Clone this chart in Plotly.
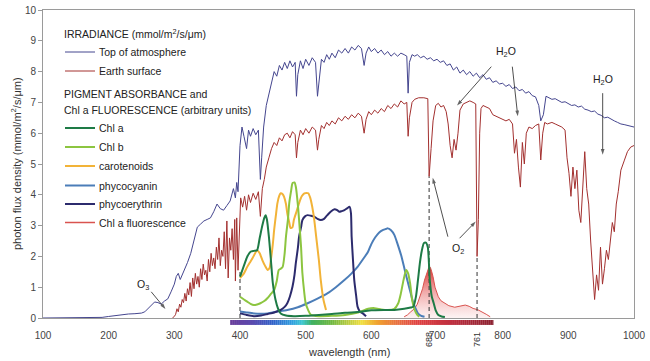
import plotly.graph_objects as go

# ---------------- DATA ----------------
toa_wl = [100,150,190,200,210,220,230,240,250,255,260,265,270,275,280,285,290,295,300,303,306,309,312,316,320,325,330,335,340,345,350,355,360,365,370,375,380,385,390,393,395,397,400,403,406,410,413,416,420,424,428,431,433,436,440,444,448,452,456,460,464,468,472,476,480,484,486,488,492,496,500,505,510,515,518,520,524,528,532,536,540,545,550,555,560,565,570,575,580,585,589,592,596,600,605,610,615,620,625,630,635,640,645,650,654,656,658,662,666,670,675,680,685,690,695,700,705,710,715,720,725,730,735,740,745,750,755,760,765,770,775,780,785,790,795,800,805,810,815,820,825,830,835,840,845,850,855,858,862,866,870,875,880,885,890,895,900,905,910,915,920,925,930,935,940,945,950,955,960,965,970,975,980,985,990,995,1000]
toa_val = [0,0,0.02,0.05,0.08,0.12,0.13,0.14,0.16,0.2,0.3,0.42,0.52,0.5,0.45,0.55,0.62,0.85,1.1,1.35,1.45,1.25,1.4,1.55,1.8,2.1,2.5,2.95,3.05,3.15,3.2,3.25,3.45,3.7,3.55,3.5,3.65,3.8,4.2,3.9,4.4,4.1,5.6,6.2,5.9,5.5,6.1,5.9,6.15,5.95,6.1,4.5,5.2,6.2,6.9,7.3,7.7,8.0,7.85,8.2,8.05,8.3,8.1,8.35,8.15,8.3,7.2,7.9,8.35,8.1,8.4,8.2,8.45,8.3,7.2,7.6,8.4,8.3,8.55,8.4,8.6,8.45,8.7,8.6,8.75,8.6,8.8,8.7,8.85,8.75,8.2,8.6,8.8,8.65,8.75,8.6,8.7,8.55,8.65,8.5,8.6,8.5,8.6,8.55,8.5,7.3,8.3,8.55,8.5,8.55,8.45,8.5,8.4,8.45,8.35,8.4,8.3,8.35,8.2,8.25,8.05,8.15,7.95,8.05,7.9,8.0,7.85,7.95,7.8,7.9,7.75,7.8,7.65,7.7,7.6,7.62,7.52,7.58,7.45,7.5,7.38,7.42,7.3,7.35,7.22,7.18,6.9,6.4,6.6,7.2,7.15,7.1,7.12,7.05,7.0,7.02,6.95,6.9,6.92,6.85,6.88,6.78,6.75,6.7,6.72,6.62,6.58,6.5,6.52,6.45,6.4,6.35,6.3,6.28,6.25,6.22,6.2]

es_wl = [297,300,302,304,306,308,310,312,314,316,318,320,322,324,326,328,330,332,334,336,338,340,342,344,346,348,350,352,354,356,358,360,362,364,366,368,370,372,374,376,378,380,382,384,386,388,390,392,393,395,397,399,401,404,407,410,413,416,420,424,428,431,434,437,440,444,448,452,456,460,464,468,472,476,480,484,486,488,492,496,500,505,510,515,518,520,524,528,532,536,540,545,550,555,560,565,570,575,580,585,589,592,596,600,605,610,615,620,625,630,635,640,645,650,654,656,658,662,666,672,680,686,688,691,694,698,702,706,710,714,717,720,723,726,729,732,735,740,745,750,755,759,761,763,765,767,770,775,780,785,790,795,800,805,810,815,818,821,824,827,830,833,836,840,845,850,855,858,861,864,868,875,880,885,890,895,898,901,904,907,910,913,916,919,922,925,928,931,934,937,940,943,946,949,952,955,958,961,964,967,970,973,976,980,985,990,995,1000]
es_val = [0,0.05,0.12,0.3,0.2,0.45,0.35,0.6,0.5,0.8,0.55,0.95,0.75,1.15,0.7,1.3,0.95,1.45,1.1,1.35,1.0,1.6,1.25,1.75,1.4,1.55,1.2,1.9,1.5,2.1,1.7,1.95,1.6,2.3,1.9,2.6,1.7,2.2,2.0,2.8,1.6,3.15,1.3,2.6,2.2,2.9,1.9,3.2,1.2,3.25,1.55,3.0,3.9,3.6,3.95,3.5,4.0,3.75,4.05,3.85,4.1,3.3,4.2,4.5,4.9,5.2,5.5,5.7,5.6,5.85,5.75,5.95,6.0,5.85,6.05,5.95,5.2,5.7,6.1,5.95,6.15,6.0,6.2,6.1,5.45,5.8,6.25,6.15,6.35,6.25,6.4,6.3,6.5,6.4,6.55,6.45,6.6,6.5,6.65,6.55,6.0,6.45,6.7,6.6,6.75,6.65,6.8,6.7,6.9,6.8,6.95,6.85,7.05,6.95,7.0,5.9,6.5,7.0,7.1,7.15,7.15,7.12,4.6,5.5,6.4,6.9,6.97,6.85,6.9,6.7,6.3,5.6,5.2,5.8,5.45,6.0,6.75,6.95,7.0,7.05,7.0,6.95,2.0,3.2,6.0,6.8,6.9,6.85,6.8,6.6,6.55,6.5,6.45,6.4,6.45,6.3,5.35,5.8,4.9,4.25,5.7,5.0,6.0,6.2,6.15,6.25,6.3,5.13,6.0,6.35,6.3,6.35,6.3,6.25,6.2,6.1,5.2,4.7,3.95,4.9,4.2,4.8,3.5,3.1,4.5,5.4,4.2,3.7,2.5,1.7,0.6,1.4,0.9,2.3,1.1,1.6,2.2,1.9,2.6,3.1,2.8,3.7,4.1,4.8,5.1,5.4,5.55,5.6]

chla_wl = [400,406,411,416,421,426,430,434,437,439,441,444,447,450,454,458,462,470,482,500,520,540,560,584,600,620,635,650,660,664,668,671,674,677,680,683,686,689,692,695,698,702,707,712]
chla_val = [1.34,1.7,1.99,2.15,2.18,2.2,2.6,3.0,3.25,3.34,3.2,2.64,1.9,1.13,0.6,0.3,0.15,0.08,0.06,0.07,0.1,0.13,0.17,0.2,0.25,0.26,0.26,0.3,0.34,0.37,0.7,1.23,1.8,2.2,2.43,2.45,2.3,1.23,0.7,0.48,0.25,0.1,0.05,0.03]

chlb_wl = [400,406,411,416,421,426,431,437,442,447,452,456,459,462,465,468,470,473,475,478,480,483,485,488,490,493,495,498,500,504,508,520,540,560,580,595,605,615,625,635,641,645,649,653,656,659,662,666,670,673]
chlb_val = [0.69,0.6,0.53,0.46,0.42,0.44,0.48,0.55,0.65,0.78,0.91,1.2,1.56,1.6,1.66,2.1,2.64,3.2,3.73,4.15,4.38,4.4,4.26,3.7,3.18,2.3,1.46,0.8,0.48,0.25,0.1,0.06,0.07,0.1,0.18,0.3,0.32,0.28,0.26,0.3,0.48,0.8,1.23,1.56,1.45,1.13,0.6,0.26,0.1,0.04]

car_wl = [400,406,411,415,419,423,426,430,434,438,442,445,447,450,452,455,457,460,462,465,467,470,472,475,477,480,482,486,490,494,498,501,504,507,510,513,516,520,523,527,531]
car_val = [1.3,1.45,1.66,1.8,1.94,2.1,2.2,2.1,1.88,1.7,1.56,1.62,1.88,2.4,2.86,3.4,3.73,3.98,4.05,4.02,3.94,3.7,3.4,3.1,2.92,2.95,3.18,3.45,3.73,3.95,4.05,4.06,4.05,3.9,3.61,3.2,2.64,1.9,1.23,0.6,0.26]

pcy_wl = [400,410,421,432,442,455,472,488,503,518,533,546,559,570,579,587,595,600,606,612,618,622,625,630,635,640,646,651,656,660,664,668,671,676,681]
pcy_val = [0.21,0.18,0.15,0.14,0.15,0.2,0.26,0.35,0.48,0.63,0.8,1.0,1.23,1.45,1.66,1.9,2.15,2.4,2.62,2.78,2.86,2.89,2.91,2.85,2.7,2.4,1.99,1.55,1.13,0.8,0.48,0.28,0.15,0.07,0.04]

pery_wl = [400,410,421,432,442,452,462,468,472,476,480,483,485,488,490,493,495,499,503,508,513,518,523,528,533,538,544,548,551,555,559,563,567,569,570,572,574,577,579,583,587,592]
pery_val = [0.15,0.1,0.06,0.08,0.13,0.18,0.26,0.36,0.48,0.7,1.02,1.4,1.78,2.25,2.64,2.95,3.18,3.3,3.34,3.32,3.29,3.22,3.18,3.22,3.34,3.45,3.53,3.5,3.45,3.47,3.5,3.56,3.61,3.4,2.64,1.9,1.23,0.7,0.37,0.2,0.15,0.06]

fl_wl = [650,655,660,666,670,674,678,681,684,687,689,690,692,694,697,700,702,706,712,718,727,735,743,749,755,762,768,775,781]
fl_val = [0.04,0.1,0.2,0.31,0.45,0.69,0.95,1.23,1.45,1.61,1.66,1.64,1.5,1.34,1.0,0.8,0.69,0.56,0.48,0.4,0.35,0.38,0.42,0.38,0.31,0.27,0.21,0.12,0.04]

x_ticks = [100,200,300,400,500,600,700,800,900,1000]
y_ticks = [0,1,2,3,4,5,6,7,8,9,10]
marker_lines = [400, 688, 761]
marker_tops = [1.55, 4.6, 2.0]
marker_labels = ["688", "761"]

# gas labels and their arrows (tail -> head, in data units)
gas_labels = ["O<sub>3</sub>", "H<sub>2</sub>O", "H<sub>2</sub>O", "O<sub>2</sub>"]
gas_label_x = [251.6, 805.6, 952.7, 731.8]
gas_label_y = [1.07, 8.65, 7.73, 2.23]
arrow_tail_x = [264.8, 782.7, 814.7, 952.3, 716.6, 734.4]
arrow_tail_y = [0.85, 8.16, 8.16, 7.3, 2.64, 2.59]
arrow_head_x = [286.5, 730.5, 823.0, 952.3, 693.5, 759.0]
arrow_head_y = [0.29, 6.9, 6.55, 5.3, 4.55, 3.13]

# ---------------- STYLE ----------------
C_TOA = "#45468f"
C_ES = "#a3302f"
C_CHLA = "#1e7b46"
C_CHLB = "#8cc540"
C_CAR = "#f2b338"
C_PCY = "#4b7db8"
C_PERY = "#2c2b6d"
C_FL = "#d9534f"
FONT = "Liberation Sans, Arial, sans-serif"

fig = go.Figure()

fig.add_trace(go.Scatter(
    x=fl_wl, y=fl_val, mode="lines", line=dict(color=C_FL, width=1),
    fill="tozeroy",
    fillgradient=dict(type="vertical",
                      colorscale=[[0, "rgba(235,110,110,0.08)"], [0.5, "rgba(225,70,70,0.45)"], [1, "rgba(215,35,35,0.95)"]]),
    hoverinfo="skip", showlegend=False))

for xv, top in zip(marker_lines, marker_tops):
    fig.add_trace(go.Scatter(x=[xv, xv], y=[0, top], mode="lines",
                             line=dict(color="#333333", width=1, dash="4px,3px"),
                             hoverinfo="skip", showlegend=False))

fig.add_trace(go.Scatter(x=toa_wl, y=toa_val, mode="lines", line=dict(color=C_TOA, width=1), showlegend=False))
fig.add_trace(go.Scatter(x=es_wl, y=es_val, mode="lines", line=dict(color=C_ES, width=1), showlegend=False))

for xs, ys, col in [(pcy_wl, pcy_val, C_PCY), (pery_wl, pery_val, C_PERY), (car_wl, car_val, C_CAR),
                    (chlb_wl, chlb_val, C_CHLB), (chla_wl, chla_val, C_CHLA)]:
    fig.add_trace(go.Scatter(x=xs, y=ys, mode="lines", line=dict(color=col, width=2, shape="spline", smoothing=0.6),
                             showlegend=False))

for tx, ty, hx, hy in zip(arrow_tail_x, arrow_tail_y, arrow_head_x, arrow_head_y):
    fig.add_trace(go.Scatter(x=[tx, hx], y=[ty, hy], mode="lines+markers",
                             line=dict(color="#222", width=0.8),
                             marker=dict(symbol="arrow", size=[0, 6], angleref="previous", color="#222",
                                         line=dict(width=0)),
                             hoverinfo="skip", showlegend=False))

# ---------------- spectrum colour bar below axis ----------------
stops = [(385, (106, 61, 154)), (420, (90, 75, 175)), (450, (48, 96, 200)), (480, (48, 160, 224)),
         (495, (64, 200, 208)), (510, (64, 176, 96)), (540, (112, 184, 64)), (570, (200, 208, 64)),
         (585, (240, 224, 64)), (610, (240, 160, 48)), (640, (232, 112, 64)), (670, (224, 64, 64)),
         (720, (192, 48, 64)), (786, (138, 32, 48))]

def spec_col(w):
    for (w0, c0), (w1, c1) in zip(stops[:-1], stops[1:]):
        if w0 <= w <= w1:
            t = (w - w0) / (w1 - w0)
            return "rgb(%d,%d,%d)" % tuple(round(a + (b - a) * t) for a, b in zip(c0, c1))
    return "rgb(138,32,48)"

shapes = []
w = 385
while w < 786:
    shapes.append(dict(type="rect", xref="x", yref="paper", x0=w, x1=min(w + 3.3, 786),
                       y0=-0.0225, y1=-0.0065, line=dict(width=0), fillcolor=spec_col(w + 1.5), layer="above"))
    w += 3

# ---------------- legend (drawn manually) ----------------
def px2x(px):
    return (px - 43) / 591.0

def py2y(py):
    return (318 - py) / 308.0

annotations = []
legend_items = [("Top of atmosphere", C_TOA, 1, 52), ("Earth surface", C_ES, 1, 71),
                ("Chl a", C_CHLA, 2, 128), ("Chl b", C_CHLB, 2, 147), ("carotenoids", C_CAR, 2, 166),
                ("phycocyanin", C_PCY, 2, 185.5), ("phycoerythrin", C_PERY, 2, 204), ("Chl a fluorescence", C_FL, 1.5, 222.5)]
for name, col, lw, py in legend_items:
    shapes.append(dict(type="line", xref="paper", yref="paper", x0=px2x(65), x1=px2x(95), y0=py2y(py), y1=py2y(py),
                       line=dict(color=col, width=lw)))
    annotations.append(dict(text=name, xref="paper", yref="paper", x=px2x(97), y=py2y(py), xanchor="left",
                            yanchor="middle", showarrow=False, font=dict(size=10.5, color="#222", family=FONT)))
for txt, py in [("IRRADIANCE (mmol/m<sup>2</sup>/s/μm)", 33.5), ("PIGMENT ABSORBANCE and", 94),
                ("Chl a FLUORESCENCE (arbitrary units)", 110)]:
    annotations.append(dict(text=txt, xref="paper", yref="paper", x=px2x(62), y=py2y(py), xanchor="left",
                            yanchor="middle", showarrow=False, font=dict(size=10.5, color="#222", family=FONT)))

for t, xv, yv in zip(gas_labels, gas_label_x, gas_label_y):
    annotations.append(dict(text=t, x=xv, y=yv, xref="x", yref="y", showarrow=False, xanchor="center",
                            yanchor="middle", font=dict(size=10.5, color="#222", family=FONT)))

for lab in marker_labels:
    annotations.append(dict(text=lab, x=float(lab), y=py2y(340), xref="x", yref="paper", showarrow=False,
                            xanchor="center", yanchor="middle",
                            textangle=-90, font=dict(size=9, color="#333", family=FONT)))

annotations.append(dict(text="wavelength (nm)", x=px2x(349), y=py2y(351.5), xref="paper", yref="paper",
                        xanchor="center", yanchor="middle",
                        showarrow=False, font=dict(size=11, color="#333", family=FONT)))
annotations.append(dict(text="photon flux density (mmol/m<sup>2</sup>/s/μm)", x=px2x(16), y=py2y(164),
                        xref="paper", yref="paper", showarrow=False, textangle=-90,
                        xanchor="center", yanchor="middle",
                        font=dict(size=11, color="#333", family=FONT)))

fig.update_layout(
    autosize=False, width=650, height=361, margin=dict(l=43, r=16, t=10, b=43, autoexpand=False),
    paper_bgcolor="white", plot_bgcolor="white",
    font=dict(family=FONT, size=10, color="#444"),
    shapes=shapes, annotations=annotations, showlegend=False,
    xaxis=dict(range=[100, 1000], tickvals=x_ticks, showgrid=False, zeroline=False, automargin=False,
               showline=True, linecolor="#9a9a9a", linewidth=1, mirror=True,
               ticks="outside", ticklen=8, tickcolor="rgba(0,0,0,0)", tickfont=dict(size=10, color="#444")),
    yaxis=dict(range=[0, 10], tickvals=y_ticks, showgrid=False, zeroline=False, automargin=False,
               showline=True, linecolor="#9a9a9a", linewidth=1, mirror=True,
               ticks="outside", ticklen=4, tickcolor="#9a9a9a", tickfont=dict(size=10, color="#444")),
)

fig.write_html("out.html",
               config={"displayModeBar": False, "responsive": False},
               post_script="document.body.style.margin='0';document.body.style.padding='0';document.body.style.overflow='hidden';")
